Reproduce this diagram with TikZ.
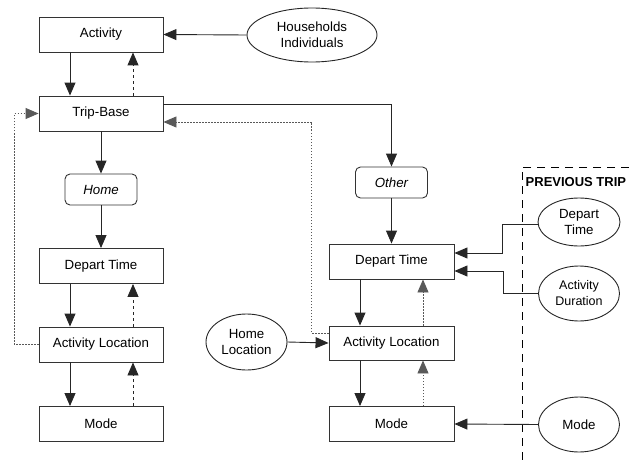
\documentclass[tikz,border=0pt]{standalone}
\usepackage{fontspec}
\setmainfont{Liberation Sans}
\usetikzlibrary{shapes.geometric,arrows.meta}
\begin{document}
\begin{tikzpicture}[x=1pt,y=-1pt,
  base/.style={font=\fontsize{13.3}{16}\selectfont, inner sep=0pt, align=center},
  box/.style={base, draw=black!80, line width=0.9pt, rectangle, minimum width=124pt, minimum height=35pt},
  rbox/.style={base, draw=black!80, line width=0.9pt, rectangle, rounded corners=5pt, minimum width=72pt, minimum height=31pt, font=\fontsize{13.3}{16}\selectfont\itshape},
  ell/.style={base, draw=black!85, line width=0.9pt, ellipse, minimum width=81pt, minimum height=55pt},
  arr/.style={draw=black!85, line width=0.9pt, -{Triangle[length=13pt,width=11pt]}},
  dsh/.style={arr, dash pattern=on 3pt off 3pt},
  dotl/.style={arr, draw=black!65, dash pattern=on 1.5pt off 1.5pt},
  prevbox/.style={draw=black, line width=0.9pt, dash pattern=on 8pt off 6pt}
]
\useasboundingbox (0,0) rectangle (629,460);

% left column
\node[box] (act) at (101,34.5) {Activity};
\node[box] (tb) at (101,113.5) {Trip-Base};
\node[rbox] (home) at (101,189.5) {Home};
\node[box] (dtL) at (101,266) {Depart Time};
\node[box] (alL) at (101,344.5) {Activity Location};
\node[box] (mL) at (101,424) {Mode};

% right column
\node[rbox] (other) at (391.5,182.5) {Other};
\node[box, minimum width=125pt] (dtR) at (391.5,261.5) {Depart Time};
\node[box, minimum width=125pt, minimum height=34pt] (alR) at (391.5,343) {Activity Location};
\node[box, minimum width=125pt] (mR) at (391.5,424) {Mode};

% ellipses
\node[ell, minimum width=130pt, minimum height=54pt] (hh) at (312,35) {Households\\Individuals};
\node[ell, minimum height=56pt] (hl) at (246.5,342) {Home\\Location};
\node[ell, minimum width=82pt, minimum height=48pt] (pdt) at (579,222) {Depart\\Time};
\node[ell, font=\fontsize{12.5}{16}\selectfont] (pad) at (579,293.5) {Activity\\Duration};
\node[ell] (pm) at (579,424.5) {Mode};

% previous trip frame
\coordinate (pbA) at (629,167);
\coordinate (pbB) at (522,167);
\coordinate (pbC) at (522,460);
\draw[prevbox] (pbA) -- (pbB) -- (pbC);
\node[base, anchor=west, font=\fontsize{13}{16}\selectfont\bfseries] (prev) at (525.5,182) {PREVIOUS TRIP};

% connectors left
\draw[arr] (hh.west) -- (act.east);
\draw[arr] ([xshift=-31pt]act.south) -- ([xshift=-31pt]tb.north);
\draw[dsh] ([xshift=32pt]tb.north) -- ([xshift=32pt]act.south);
\draw[arr] (tb.south) -- (home.north);
\draw[arr] (home.south) -- (dtL.north);
\draw[arr] ([xshift=-31pt]dtL.south) -- ([xshift=-31pt]alL.north);
\draw[dsh] ([xshift=32pt]alL.north) -- ([xshift=32pt]dtL.south);
\draw[arr] ([xshift=-31pt]alL.south) -- ([xshift=-31pt]mL.north);
\draw[dsh] ([xshift=32pt]mL.north) -- ([xshift=32pt]alL.south);
\draw[dotl] (alL.west) -- ++(-24pt,0) |- (tb.west);

% connectors right
\draw[arr] ([yshift=9.5pt]tb.east) -| (other.north);
\draw[dotl] ([yshift=10pt]alR.west) -- ++(-17pt,0) |- ([yshift=-8.5pt]tb.east);
\draw[arr] (other.south) -- (dtR.north);
\draw[arr] ([xshift=-31.5pt]dtR.south) -- ([xshift=-31.5pt]alR.north);
\draw[dotl] ([xshift=31.5pt]alR.north) -- ([xshift=31.5pt]dtR.south);
\draw[arr] ([xshift=-31.5pt]alR.south) -- ([xshift=-31.5pt]mR.north);
\draw[dotl] ([xshift=31.5pt]mR.north) -- ([xshift=31.5pt]alR.south);
\draw[arr] (hl.east) -- (alR.west);
\draw[arr] ([yshift=-2pt]pdt.west) -- ++(-35pt,0) |- ([yshift=8.5pt]dtR.east);
\draw[arr] (pad.west) -- ++(-35pt,0) |- ([yshift=-9.5pt]dtR.east);
\draw[arr] (pm.west) -- (mR.east);
\end{tikzpicture}
\end{document}
